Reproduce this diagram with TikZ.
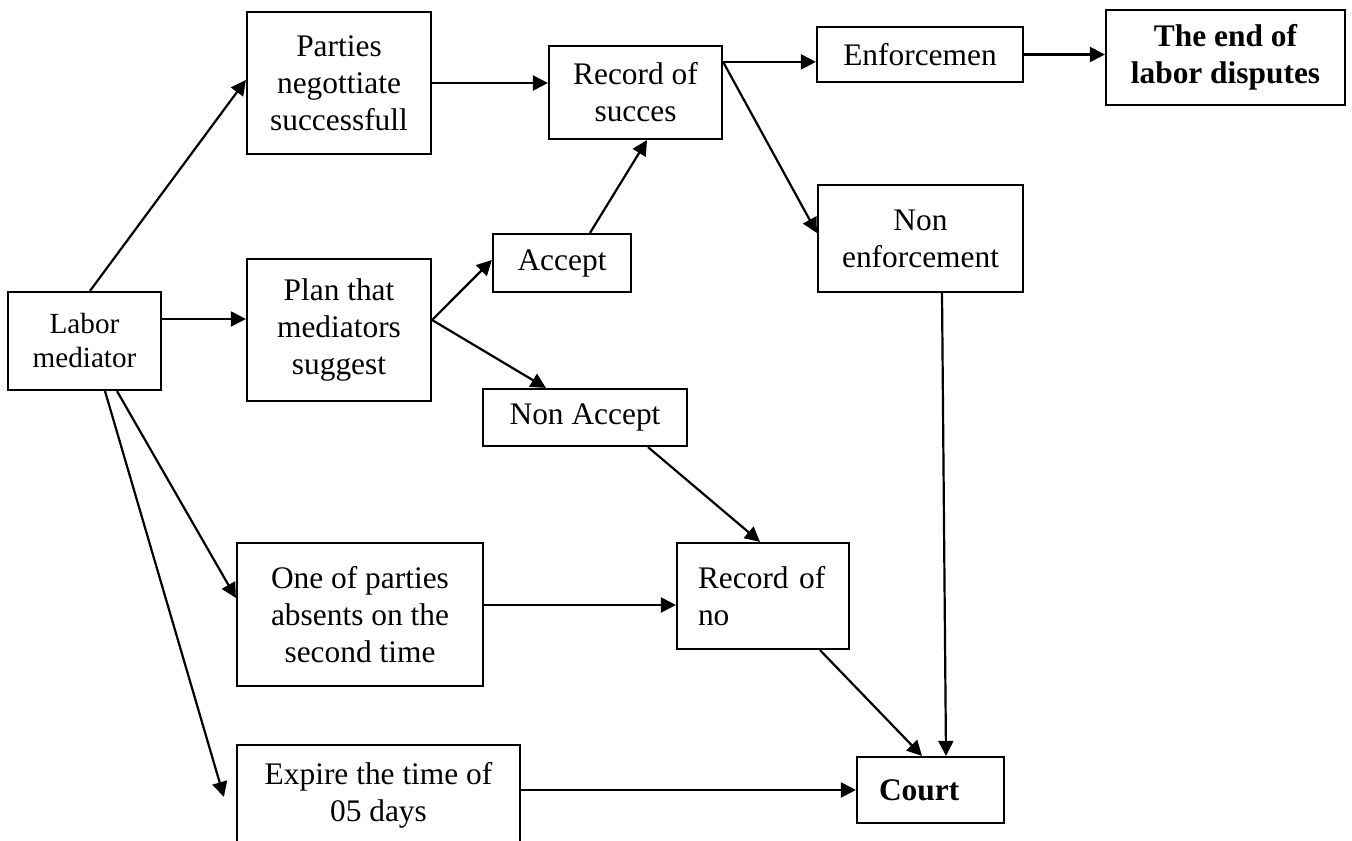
\documentclass[tikz,border=0pt]{standalone}
\usepackage{fontspec}
\setmainfont{Liberation Serif}
\usetikzlibrary{arrows.meta,calc}
\begin{document}
\begin{tikzpicture}[x=0.5pt,y=-0.5pt,
  box/.style={draw,line width=1.1pt,inner sep=0pt,align=center,font=\fontsize{15.7}{18.5}\selectfont},
  arr/.style={line width=1.1pt,-{Triangle[length=7.5pt,width=7.5pt]}}]
\useasboundingbox (0,0) rectangle (1352,840);
\clip (0,0) rectangle (1352,840);
\fill[white] (0,0) rectangle (1352,840);
\node[box,minimum width=76.5pt,minimum height=49pt,font=\fontsize{14.6}{17}\selectfont] (labor) at (84.5,341) {Labor\\mediator};
\node[box,minimum width=92pt,minimum height=71pt] (parties) at (339,83) {Parties\\negottiate\\successfull};
\node[box,minimum width=92pt,minimum height=71pt] (plan) at (339,330) {Plan that\\mediators\\suggest};
\node[box,minimum width=86.5pt,minimum height=46.5pt] (recs) at (635.5,92.5) {Record of\\succes};
\node[box,minimum width=103pt,minimum height=27.5pt] (enf) at (920,54.5) {Enforcemen};
\node[box,minimum width=119.5pt,minimum height=47.5pt,font=\fontsize{15.7}{18.5}\selectfont\bfseries] (end) at (1225.5,57.5) {The end of\\labor disputes};
\node[box,minimum width=102.5pt,minimum height=53.5pt] (nonenf) at (920.5,238.5) {Non\\enforcement};
\node[box,minimum width=69pt,minimum height=29pt] (accept) at (562,263) {Accept};
\node[box,minimum width=102pt,minimum height=28.5pt] (nonacc) at (585,417.5) {Non Accept};
\node[box,minimum width=123pt,minimum height=71.5pt] (one) at (360,614.5) {One of parties\\absents on the\\second time};
\node[box,minimum width=86pt,minimum height=53pt,text width=65pt,align=left] (recno) at (763,596) {Record of\\no};
\node[box,minimum width=141.5pt,minimum height=50.5pt] (expire) at (378.5,795.5) {Expire the time of\\05 days};
\node[box,minimum width=73.5pt,minimum height=33pt,text width=51.5pt,align=left,font=\fontsize{15.7}{18.5}\selectfont\bfseries] (court) at (930.5,790) {Court};
% connectors
\draw[arr] ($(labor.north)+(5.5,0)$) -- ($(parties.west)+(0,-3)$);
\draw[arr] ($(labor.east)+(0,-22)$) -- ($(plan.west)+(0,-11)$);
\draw[arr] (parties.east) -- (parties.east -| recs.west);
\coordinate (br) at ($(plan.east)+(0,-10)$);
\draw[arr] (br) -- ($(accept.west)+(0,-3)$);
\draw[arr] (br) -- ($(nonacc.north west)+(64,0)$);
\draw[arr] ($(accept.north)+(28,0)$) -- ($(recs.south)+(11.5,0)$);
\coordinate (rs) at ($(recs.north east)+(0,17)$);
\draw[arr] (rs) -- (rs -| enf.west);
\draw[arr] (rs) -- ($(nonenf.west)+(0,-5.5)$);
\draw[arr] (enf.east) -- (enf.east -| end.west);
\draw[arr] ($(nonenf.south)+(21.5,0)$) -- ($(court.north)+(15.5,0)$);
\draw[arr] ($(nonacc.south)+(63,0)$) -- ($(recno.north)+(-3,0)$);
\coordinate (oe) at ($(one.east)+(0,-9.5)$);
\draw[arr] (oe) -- (oe -| recno.west);
\draw[arr] ($(recno.south)+(57,0)$) -- ($(court.north)+(-8.5,0)$);
\draw[arr] (court.west -| expire.east) -- (court.west);
\draw[arr] ($(labor.south)+(32.5,0)$) -- ($(one.west)+(0,-16.5)$);
\coordinate (ex) at ($(expire.north west)+(-12,53)$);
\draw[arr] ($(labor.south)+(20.5,0)$) -- (ex);
\end{tikzpicture}
\end{document}
